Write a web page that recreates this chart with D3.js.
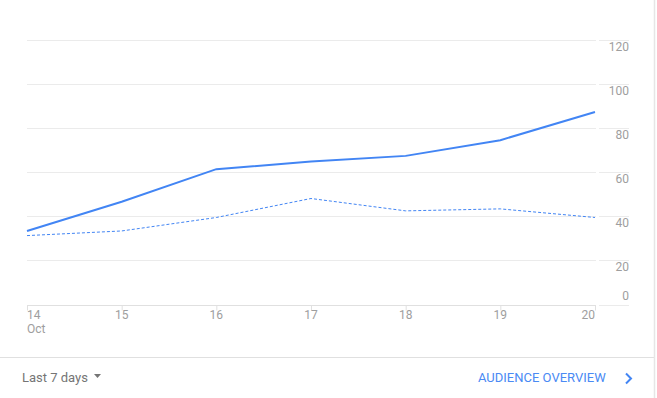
<!DOCTYPE html>
<html>
<head>
<meta charset="utf-8">
<script src="https://cdn.jsdelivr.net/npm/d3@7"></script>
<style>
  body { margin: 0; background: #fff; font-family: Roboto, "Noto Sans", sans-serif; }
</style>
</head>
<body>
<svg id="canvas"></svg>
<script>
const days = ['14', '15', '16', '17', '18', '19', '20']
const monthLabel = 'Oct'
const currentWeek = [33.3, 46.5, 61.3, 64.7, 67.3, 74.4, 87.2]
const previousWeek = [31.2, 33.3, 39.4, 48, 42.4, 43.3, 39.4]
const yTicks = [0, 20, 40, 60, 80, 100, 120]

let width = 657
let height = 398

const svg = d3.select('#canvas')
    .attr('width', width)
    .attr('height', height)

const xScale = d3.scalePoint()
    .domain(days)
    .range([27, 595])

const yScale = d3.scaleLinear()
    .domain([0, 120])
    .range([304.5, 39.5])

// gridlines (plot part and label part)
svg.append('g')
    .selectAll('line')
    .data(yTicks.filter(d => d > 0))
    .enter()
    .append('line')
    .attr('x1', 27)
    .attr('x2', 596)
    .attr('y1', d => Math.round(yScale(d)) + 0.5)
    .attr('y2', d => Math.round(yScale(d)) + 0.5)
    .attr('stroke', '#ebebeb')

svg.append('g')
    .selectAll('line')
    .data(yTicks)
    .enter()
    .append('line')
    .attr('x1', 599)
    .attr('x2', 629)
    .attr('y1', d => Math.round(yScale(d)) + 0.5)
    .attr('y2', d => Math.round(yScale(d)) + 0.5)
    .attr('stroke', '#ebebeb')

// y labels
svg.append('g')
    .selectAll('text')
    .data(yTicks)
    .enter()
    .append('text')
    .attr('x', 629)
    .attr('y', d => d === 0 ? yScale(d) - 5 : yScale(d) + 11)
    .attr('text-anchor', 'end')
    .attr('font-size', 12)
    .attr('fill', '#9e9e9e')
    .text(d => d)

// x axis
const xAxis = d3.axisBottom(xScale).tickSize(5).tickFormat('')
const xg = svg.append('g')
    .attr('transform', 'translate(0,' + (Math.round(yScale(0)) + 0.5) + ')')
    .call(xAxis)
xg.select('.domain').attr('stroke', '#e0e0e0').attr('d', 'M27,0H596')
xg.selectAll('.tick line').attr('stroke', '#e0e0e0')

// first label left-aligned, last right-aligned, others centred
svg.append('g')
    .selectAll('text')
    .data(days)
    .enter()
    .append('text')
    .attr('x', d => xScale(d))
    .attr('y', 319)
    .attr('text-anchor', (d, i) => i === 0 ? 'start' : (i === days.length - 1 ? 'end' : 'middle'))
    .attr('font-size', 12)
    .attr('fill', '#9e9e9e')
    .text(d => d)

svg.append('text')
    .attr('x', xScale(days[0]))
    .attr('y', 333)
    .attr('font-size', 12)
    .attr('fill', '#9e9e9e')
    .text(monthLabel)

// lines
const line = (values) => d3.line()
    .x((d, i) => xScale(days[i]))
    .y(d => yScale(d))(values)

svg.append('path')
    .attr('d', line(previousWeek))
    .attr('fill', 'none')
    .attr('stroke', '#4285f4')
    .attr('stroke-width', 1)
    .attr('stroke-dasharray', '3,2')

svg.append('path')
    .attr('d', line(currentWeek))
    .attr('fill', 'none')
    .attr('stroke', '#4285f4')
    .attr('stroke-width', 2)

// footer
svg.append('line')
    .attr('x1', 0).attr('x2', 654)
    .attr('y1', 357.5).attr('y2', 357.5)
    .attr('stroke', '#e0e0e0')

svg.append('line')
    .attr('x1', 654.5).attr('x2', 654.5)
    .attr('y1', 0).attr('y2', height)
    .attr('stroke', '#e6e6e6')
    .attr('stroke-width', 1.5)

svg.append('text')
    .attr('x', 22)
    .attr('y', 382)
    .attr('font-size', 13)
    .attr('fill', '#757575')
    .text('Last 7 days')

svg.append('path')
    .attr('d', 'M94,374L101,374L97.5,378Z')
    .attr('fill', '#757575')

svg.append('text')
    .attr('x', 478)
    .attr('y', 382)
    .attr('font-size', 13)
    .attr('fill', '#4a8af4')
    .text('AUDIENCE OVERVIEW')

svg.append('path')
    .attr('d', 'M626,373.5L631,378.5L626,383.5')
    .attr('fill', 'none')
    .attr('stroke', '#4285f4')
    .attr('stroke-width', 2)
</script>
</body>
</html>
